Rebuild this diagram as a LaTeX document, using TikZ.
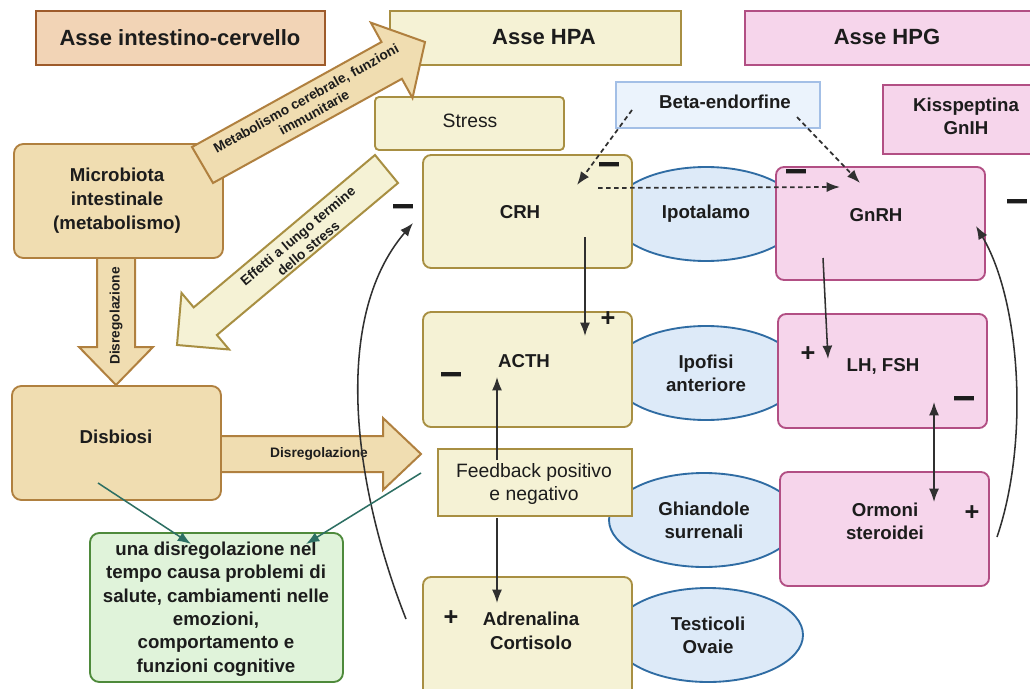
\documentclass[tikz,border=0pt]{standalone}
\usepackage{fontspec}
\setmainfont{Liberation Sans}
\usetikzlibrary{arrows.meta,fit,shapes.geometric}

\definecolor{ink}{HTML}{1C1C1C}
\definecolor{arrowc}{HTML}{303030}
\definecolor{tanfill}{HTML}{F0DDB1}
\definecolor{tanline}{HTML}{B0803F}
\definecolor{peachfill}{HTML}{F2D4B6}
\definecolor{peachline}{HTML}{9E5B2B}
\definecolor{yelfill}{HTML}{F5F2D5}
\definecolor{yelline}{HTML}{A88F42}
\definecolor{pinkfill}{HTML}{F6D5EB}
\definecolor{pinkline}{HTML}{B24F84}
\definecolor{bluefill}{HTML}{DDEAF8}
\definecolor{blueline}{HTML}{2F6CA3}
\definecolor{betafill}{HTML}{EBF3FC}
\definecolor{betaline}{HTML}{A3BFE6}
\definecolor{greenfill}{HTML}{E0F3DA}
\definecolor{greenline}{HTML}{4E8A3B}
\definecolor{tealline}{HTML}{2D6F63}

\newcommand{\inhib}{\scalebox{1}[2.2]{—}}

\begin{document}
\begin{tikzpicture}[x=0.75pt,y=-0.75pt,
  every node/.style={text=ink},
  boxs/.style={draw, line width=1.4pt, inner sep=0pt},
  tanbox/.style={boxs, fill=tanfill, draw=tanline, rounded corners=7pt},
  yelbox/.style={boxs, fill=yelfill, draw=yelline, rounded corners=6pt},
  pinkbox/.style={boxs, fill=pinkfill, draw=pinkline, rounded corners=6pt},
  organ/.style={ellipse, draw=blueline, fill=bluefill, line width=1.4pt,
    minimum width=142.5pt, minimum height=70.5pt, inner sep=0pt, align=center,
    font=\fontsize{14}{17.5}\selectfont\bfseries},
  bt/.style={font=\fontsize{14}{17.5}\selectfont\bfseries, align=center, inner sep=0pt},
  rt/.style={font=\fontsize{14.5}{17.5}\selectfont, align=center, inner sep=0pt},
  ht/.style={font=\fontsize{16.5}{20}\selectfont\bfseries, inner sep=0pt},
  st/.style={font=\fontsize{10.3}{12.3}\selectfont\bfseries, align=center, inner sep=0pt},
  sgn/.style={font=\fontsize{15}{15}\selectfont\bfseries, inner sep=0pt},
  psgn/.style={font=\fontsize{19}{19}\selectfont\bfseries, inner sep=0pt},
  bigtan/.style={fill=tanfill, draw=tanline, line width=1.5pt},
  bigyel/.style={fill=yelfill, draw=yelline, line width=1.5pt},
  tip/.style={Latex[length=10pt,width=7.5pt]},
  arr/.style={draw=arrowc, line width=1.15pt, -{Latex[length=10pt,width=7.5pt]}},
  darr/.style={draw=arrowc, line width=1.15pt, {Latex[length=10pt,width=7.5pt]}-{Latex[length=10pt,width=7.5pt]}},
  dsh/.style={draw=arrowc, line width=1.3pt, dash pattern=on 3.5pt off 2.5pt, -{Latex[length=10pt,width=7.5pt]}},
  tarr/.style={draw=tealline, line width=1.15pt, -{Latex[length=10pt,width=7.5pt]}}
]
\useasboundingbox (0,0) rectangle (1030,688);
\fill[white] (0,0) rectangle (1030,688);
\clip (0,0) rectangle (1030,688);

% glands of the two axes
\node[organ] (hyp) at (706,214) {Ipotalamo};
\node[organ] (pit) at (706,373) {Ipofisi\\anteriore};
\node[organ] (adg) at (704,520) {Ghiandole\\surrenali};
\node[organ] (gon) at (708,635) {Testicoli\\Ovaie};

% broad arrows leaving the gut microbiota
\draw[bigtan] (97,255) -- (97,347) -- (79,347) -- (116,385) -- (153,347) -- (135,347) -- (135,255) -- cycle;
\draw[bigtan] (220,436) -- (383,436) -- (383,418) -- (421,454) -- (383,490) -- (383,472) -- (220,472) -- cycle;
\draw[bigyel] (375,155) -- (193.7,307.4) -- (181.5,292.9) -- (177,345) -- (229.1,349.5) -- (216.9,335) -- (398,183) -- cycle;

% headers
\node[boxs, fill=peachfill, draw=peachline, fit={(36,11) (325,65)}] (hgut) {};
\node[boxs, fill=yelfill, draw=yelline, fit={(390,11) (681,65)}] (hhpa) {};
\node[boxs, fill=pinkfill, draw=pinkline, fit={(745,11) (1045,65)}] (hhpg) {};

% modulators
\node[yelbox, rounded corners=3pt, fit={(375,97) (564,150)}] (stress) {};
\node[boxs, fill=betafill, draw=betaline, line width=1.2pt, fit={(616,82) (820,128)}] (beta) {};
\node[boxs, fill=pinkfill, draw=pinkline, fit={(883,85) (1045,154)}] (kiss) {};

% gut side
\node[tanbox, fit={(14,144) (223,258)}] (micro) {};
\node[tanbox, fit={(12,386) (221,500)}] (disb) {};
\node[boxs, fill=greenfill, draw=greenline, rounded corners=7pt, fit={(90,533) (343,682)}] (health) {};

% HPA axis
\node[yelbox, fit={(423,155) (632,268)}] (crh) {};
\node[yelbox, fit={(423,312) (632,427)}] (acth) {};
\node[boxs, fill=yelfill, draw=yelline, fit={(438,449) (632,516)}] (fb) {};
\node[yelbox, fit={(423,577) (632,705)}] (adr) {};

% HPG axis
\node[pinkbox, fit={(776,167) (985,280)}] (gnrh) {};
\node[pinkbox, fit={(778,314) (987,428)}] (lh) {};
\node[pinkbox, fit={(780,472) (989,586)}] (orm) {};

% arrow from the microbiota to the HPA axis
\draw[bigtan] (192,147) -- (381.5,42) -- (370.9,22.7) -- (425,42) -- (412.5,98) -- (401.9,78.8) -- (213,183) -- cycle;

% texts
\node[ht] (thgut) at (180,38) {Asse intestino-cervello};
\node[ht] (thhpa) at (544,37) {Asse HPA};
\node[ht] (thhpg) at (887,37) {Asse HPG};
\node[rt] (tstress) at (470,121) {Stress};
\node[bt] (tbeta) at (725,102) {Beta-endorfine};
\node[bt] (tkiss) at (966,116) {Kisspeptina\\GnIH};
\node[bt, font=\fontsize{14}{18}\selectfont\bfseries] (tmicro) at (117,201) {Microbiota\\intestinale\\(metabolismo)};
\node[bt] (tdisb) at (116,437) {Disbiosi};
\node[bt] (thealth) at (216,609) {una disregolazione nel\\tempo causa problemi di\\salute, cambiamenti nelle\\emozioni,\\comportamento e\\funzioni cognitive};
\node[bt] (tcrh) at (520,212) {CRH};
\node[bt] (tacth) at (524,361) {ACTH};
\node[rt] (tfb) at (534,484) {Feedback positivo\\e negativo};
\node[bt, font=\fontsize{14}{18}\selectfont\bfseries] (tadr) at (531,631) {Adrenalina\\Cortisolo};
\node[bt] (tgnrh) at (876,215) {GnRH};
\node[bt] (tlh) at (883,366) {LH, FSH};
\node[bt] (torm) at (885,521) {Ormoni\\steroidei};

% labels on the broad arrows
\node[st, rotate=29] (tmeta) at (310,105.5) {Metabolismo cerebrale, funzioni\\immunitarie};
\node[st, rotate=40] (teff) at (303,242) {Effetti a lungo termine\\dello stress};
\node[st, rotate=90] (tdis1) at (116,316) {Disregolazione};
\node[st] (tdis2) at (319,454) {Disregolazione};

% inhibition and stimulation marks
\node[sgn] (m1) at (609,170) {\inhib};
\node[sgn] (m2) at (403,212) {\inhib};
\node[sgn] (m3) at (451,380) {\inhib};
\node[sgn] (m4) at (796,177) {\inhib};
\node[sgn] (m5) at (1017,207) {\inhib};
\node[sgn] (m6) at (964,404) {\inhib};
\node[psgn] (p1) at (608,319) {+};
\node[psgn] (p2) at (451,618) {+};
\node[psgn] (p3) at (808,354) {+};
\node[psgn] (p4) at (972,513) {+};

% connector ends
\coordinate (crhout) at (585,237);
\coordinate (acthin) at (585,336);
\coordinate (gnrhout) at (823,258);
\coordinate (lhin) at (828,359);
\coordinate (fbup) at (497,460);
\coordinate (acthfb) at (497,377);
\coordinate (fbdown) at (497,518);
\coordinate (adrin) at (497,603);
\coordinate (lhfb) at (934,402);
\coordinate (ormfb) at (934,502);
\coordinate (adrout) at (406,619);
\coordinate (crhin) at (413,223);
\coordinate (ormout) at (997,537);
\coordinate (gnrhin) at (976,226);
\coordinate (disbout) at (98,483);
\coordinate (healthl) at (191,544);
\coordinate (fbout) at (421,473);
\coordinate (healthr) at (306,544);
\coordinate (betal) at (632,110);
\coordinate (crhbeta) at (577,185);
\coordinate (crhx) at (598,188);
\coordinate (gnrhx) at (840,187);
\coordinate (betar) at (797,117);
\coordinate (gnrhbeta) at (860,183);

% connectors
\draw[arr] (crhout) -- (acthin);
\draw[arr] (gnrhout) -- (lhin);
\draw[arr] (fbup) -- (acthfb);
\draw[arr] (fbdown) -- (adrin);
\draw[darr] (lhfb) -- (ormfb);
\draw[arr] (adrout) .. controls (355,490) and (330,320) .. (crhin);
\draw[arr] (ormout) .. controls (1030,440) and (1020,300) .. (gnrhin);
\draw[tarr] (disbout) -- (healthl);
\draw[tarr] (fbout) -- (healthr);
\draw[dsh] (betal) -- (crhbeta);
\draw[dsh] (crhx) -- (gnrhx);
\draw[dsh] (betar) -- (gnrhbeta);
\end{tikzpicture}
\end{document}
